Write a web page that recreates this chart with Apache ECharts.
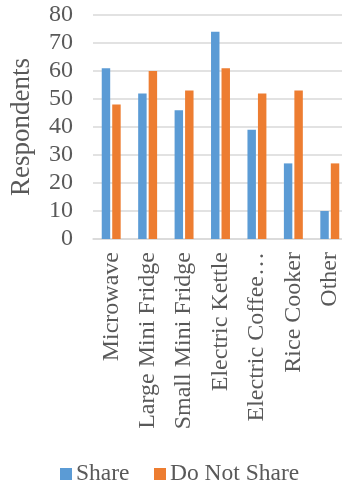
<!DOCTYPE html>
<html><head><meta charset="utf-8">
<script src="https://cdn.jsdelivr.net/npm/echarts@6/dist/echarts.min.js"></script>
<style>html,body{margin:0;padding:0;background:#fff;overflow:hidden}#c{width:348px;height:483px}</style>
</head><body><div id="c"></div>
<script>
var categories = ["Microwave", "Large Mini Fridge", "Small Mini Fridge", "Electric Kettle", "Electric Coffee\u2026", "Rice Cooker", "Other"];
var shareValues = [61, 52, 46, 74, 39, 27, 10];
var doNotShareValues = [48, 60, 53, 61, 52, 53, 27];
var seriesNames = ["Share", "Do Not Share"];
var yAxisTitle = "Respondents";

var font = "Liberation Serif";
var txt = "#595959";
var colors = ['#5B9BD5', '#ED7D31'];
var chart = echarts.init(document.getElementById('c'), null, {renderer: 'canvas'});
chart.setOption({
  animation: false,
  textStyle: {fontFamily: font},
  grid: {left: 91, right: 0, top: 15, bottom: 244, containLabel: false},
  graphic: [{
    type: 'group', left: 60, top: 462,
    children: [
      {type: 'rect', shape: {x: 0, y: 1, width: 12, height: 12}, style: {fill: colors[0]}},
      {type: 'text', x: 16, y: 7, style: {text: seriesNames[0], fontFamily: font, fontSize: 23.5, fill: txt, verticalAlign: 'middle'}},
      {type: 'rect', shape: {x: 94, y: 1, width: 12, height: 12}, style: {fill: colors[1]}},
      {type: 'text', x: 110, y: 7, style: {text: seriesNames[1], fontFamily: font, fontSize: 23.5, fill: txt, verticalAlign: 'middle'}}
    ]
  }],
  xAxis: {
    type: 'category', data: categories,
    axisLine: {show: true, lineStyle: {color: '#d9d9d9', width: 1.5}},
    axisTick: {show: false},
    axisLabel: {rotate: 90, margin: 13, fontFamily: font, fontSize: 24, color: txt, interval: 0}
  },
  yAxis: {
    type: 'value', min: 0, max: 80, interval: 10,
    name: yAxisTitle, nameLocation: 'middle', nameGap: 58,
    nameTextStyle: {fontFamily: font, fontSize: 27, color: txt},
    axisLine: {show: false}, axisTick: {show: false},
    axisLabel: {margin: 20, fontFamily: font, fontSize: 24, color: txt},
    splitLine: {lineStyle: {color: '#d9d9d9', width: 1.5}}
  },
  series: [
    {name: seriesNames[0], type: 'bar', data: shareValues, barGap: '24%', barCategoryGap: '48%',
     itemStyle: {color: colors[0]}},
    {name: seriesNames[1], type: 'bar', data: doNotShareValues,
     itemStyle: {color: colors[1]}}
  ]
});
</script></body></html>
